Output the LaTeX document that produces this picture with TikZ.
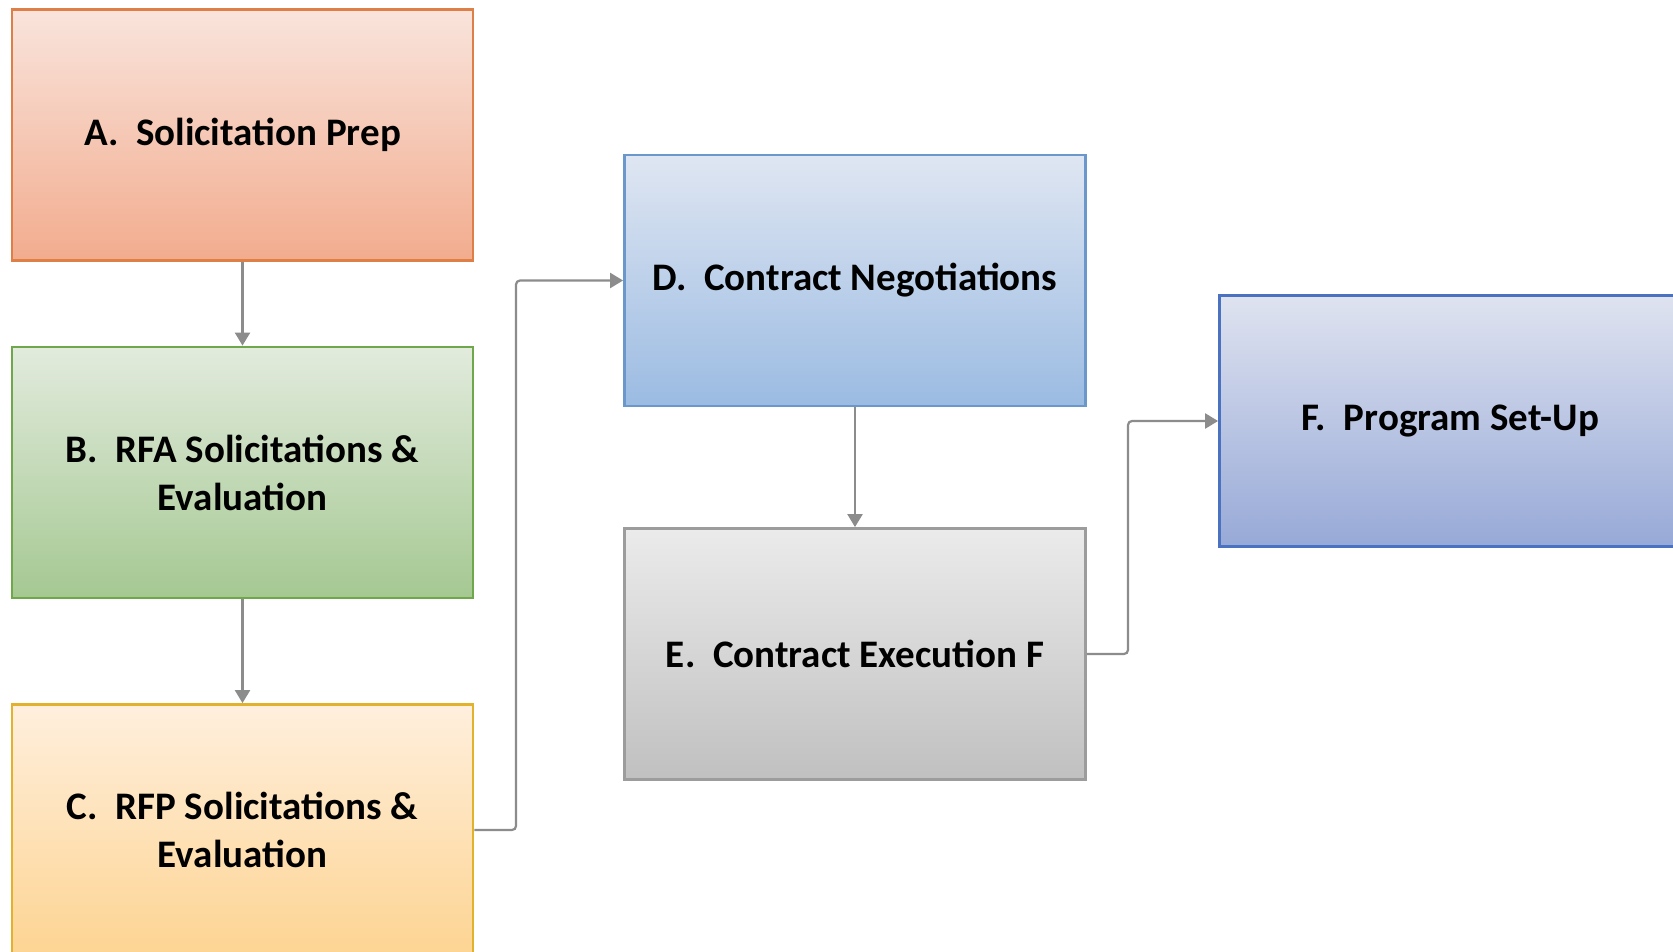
\documentclass[tikz,border=0pt]{standalone}
\usepackage{fontspec}
\setmainfont{Carlito}
\usetikzlibrary{arrows.meta}
\definecolor{aTop}{HTML}{F9E4DC}\definecolor{aBot}{HTML}{F2AC8E}\definecolor{aLine}{HTML}{DF7F48}
\definecolor{bTop}{HTML}{E2EBDD}\definecolor{bBot}{HTML}{A5C892}\definecolor{bLine}{HTML}{6FA84A}
\definecolor{cTop}{HTML}{FFEFDD}\definecolor{cBot}{HTML}{FDD492}\definecolor{cLine}{HTML}{E3B22C}
\definecolor{dTop}{HTML}{DFE6F2}\definecolor{dBot}{HTML}{9BBBE2}\definecolor{dLine}{HTML}{6A98CA}
\definecolor{eTop}{HTML}{EBEBEB}\definecolor{eBot}{HTML}{C0C0C0}\definecolor{eLine}{HTML}{9C9C9C}
\definecolor{fTop}{HTML}{DFE3F0}\definecolor{fBot}{HTML}{97A9D7}\definecolor{fLine}{HTML}{4A72C0}
\definecolor{connGray}{HTML}{8C8C8C}
\tikzset{
  stepbox/.style={rectangle, minimum width=461pt, minimum height=251pt, inner sep=0pt,
    line width=2.8pt, align=center, font=\fontsize{39}{48}\selectfont\bfseries, text=black},
  conn/.style={draw=connGray, line width=2.2pt, rounded corners=4pt,
    -{Triangle[length=13pt,width=15pt]}},
}
\begin{document}
\begin{tikzpicture}[x=1pt,y=-1pt]
\useasboundingbox (0,0) rectangle (1673,952);
\fill[white] (0,0) rectangle (1673,952);
\node[stepbox, draw=aLine, top color=aTop, bottom color=aBot] (A) at (242.5,135) {A.\ \ Solicitation Prep};
\node[stepbox, draw=bLine, top color=bTop, bottom color=bBot] (B) at (242.5,472.5) {B.\ \ RFA Solicitations \&\\Evaluation};
\node[stepbox, draw=cLine, top color=cTop, bottom color=cBot] (C) at (242.5,830) {C.\ \ RFP Solicitations \&\\Evaluation};
\node[stepbox, draw=dLine, top color=dTop, bottom color=dBot] (D) at (855,280.5) {D.\ \ Contract Negotiations};
\node[stepbox, draw=eLine, top color=eTop, bottom color=eBot] (E) at (855,654) {E.\ \ Contract Execution F};
\node[stepbox, draw=fLine, top color=fTop, bottom color=fBot] (F) at (1450,421) {F.\ \ Program Set-Up};
\coordinate (cx) at (516,0);
\coordinate (fx) at (1128,0);
\draw[conn] (A.south) -- (B.north);
\draw[conn] (B.south) -- (C.north);
\draw[conn] (D.south) -- (E.north);
\draw[conn] (C.east) -- (C.east -| cx) |- (D.west);
\draw[conn] (E.east) -- (E.east -| fx) |- (F.west);
\end{tikzpicture}
\end{document}
